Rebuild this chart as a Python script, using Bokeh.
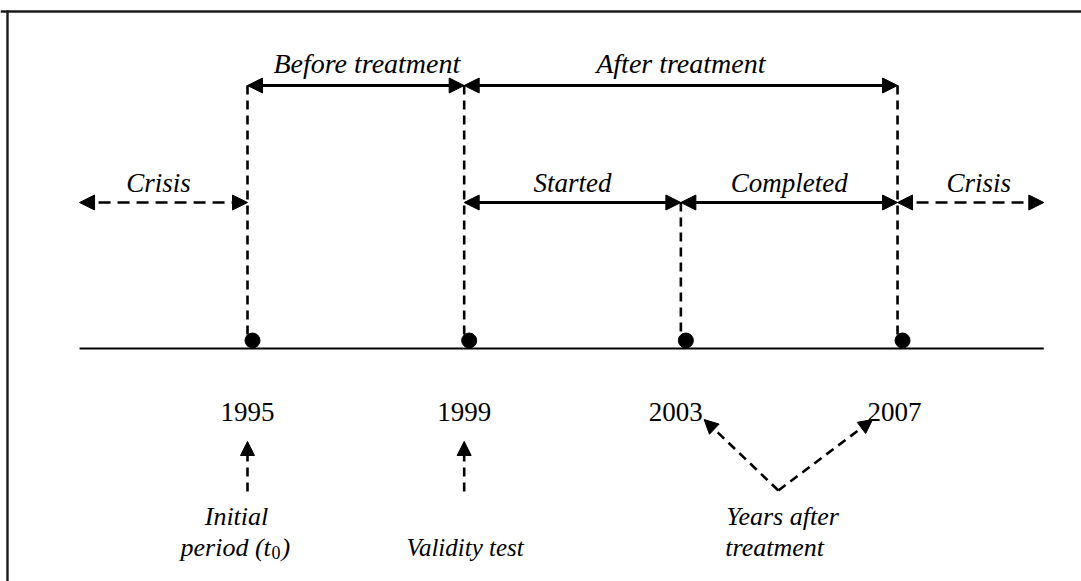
from bokeh.plotting import figure
from bokeh.models import Range1d, Arrow, NormalHead, Span
from bokeh.core.properties import value
from bokeh.embed import file_html
from bokeh.resources import INLINE

# ---------------- data ----------------
years = [1995, 1999, 2003, 2007]
year_labels = ["1995", "1999", "2003", "2007"]
guide_to = ["top", "top", "mid", "top"]          # how high each year's dashed guide reaches

top_labels = ["Before treatment", "After treatment"]
top_start = [1995, 1999]
top_end = [1999, 2007]

mid_labels = ["Crisis", "Started", "Completed", "Crisis"]
mid_start = [1991.9, 1999, 2003, 2007]
mid_end = [1995, 2003, 2007, 2009.7]
mid_dashed = [True, False, False, True]

timeline_start, timeline_end = 1991.9, 2009.7

note_years_after = 2004.8        # apex of the V arrow pointing to 2003 and 2007
# ---------------- layout ----------------
W, H = 1081, 581
PPY = 54.17                      # pixels per year
X0 = 1995 - 247 / PPY
X1 = X0 + W / PPY
Y_TOP, Y_MID, Y_BASE, Y_DOT = 85, 202, 348, 340
TY = -9                          # text baseline correction
FONT = value("Liberation Serif")
FS = "26px"

p = figure(width=W, height=H, output_backend="svg", toolbar_location=None,
           x_range=Range1d(X0, X1), y_range=Range1d(H, 0),
           x_axis_type=None, y_axis_type=None, min_border=0)
p.outline_line_color = None
p.xgrid.visible = False
p.ygrid.visible = False
p.background_fill_color = "white"
p.border_fill_color = "white"

# frame (top and left edges visible)
p.add_layout(Span(location=11, dimension="width", line_color="#1a1a1a", line_width=2.4))
p.line([X0 + 7 / PPY, X0 + 7 / PPY], [10, H + 5], line_color="#1a1a1a", line_width=2.4)

# base timeline
p.line([timeline_start, timeline_end], [Y_BASE, Y_BASE], line_color="black", line_width=2)

# dashed vertical guides
for yr, to in zip(years, guide_to):
    ytop = Y_TOP if to == "top" else Y_MID
    p.line([yr, yr], [ytop, Y_DOT], line_color="black", line_width=2.6, line_dash="9 6")

# dots
p.scatter([y + 5 / PPY for y in years], [Y_DOT] * len(years), size=15,
          fill_color="black", line_color="black")

def head():
    return NormalHead(size=15, fill_color="black", line_color="black", line_width=1)

def dbl_arrow(x0, x1, y, dashed):
    p.add_layout(Arrow(x_start=x0, y_start=y, x_end=x1, y_end=y,
                       line_color="black", line_width=2.6 if dashed else 3,
                       line_dash="12 7" if dashed else "solid",
                       start=head(), end=head()))

for a, b in zip(top_start, top_end):
    dbl_arrow(a, b, Y_TOP, False)
for a, b, d in zip(mid_start, mid_end, mid_dashed):
    dbl_arrow(a, b, Y_MID, d)

# labels over spans
p.text(x=[(a + b) / 2 for a, b in zip(top_start, top_end)], y=[72 + TY] * 2, text=top_labels,
       text_font=FONT, text_font_size="28px", text_font_style="italic",
       text_align="center", text_baseline="alphabetic", text_color="black",
       x_offset=[11, 0])
p.text(x=[(a + b) / 2 for a, b in zip(mid_start, mid_end)], y=[191 + TY] * 4, text=mid_labels,
       text_font=FONT, text_font_size="27px", text_font_style="italic",
       text_align="center", text_baseline="alphabetic", text_color="black",
       x_offset=[-5, 0, 0, 8])

# year labels
p.text(x=years, y=[420 + TY] * 4, text=year_labels, text_font=FONT, text_font_size="27px",
       text_align="center", text_baseline="alphabetic", text_color="black",
       x_offset=[0, 0, -5, -3])

# upward dashed arrows to 1995 and 1999
for yr in years[:2]:
    p.add_layout(Arrow(x_start=yr, y_start=491, x_end=yr, y_end=441,
                       line_color="black", line_width=2.6, line_dash="9 6",
                       end=NormalHead(size=14, fill_color="black", line_color="black", line_width=1)))

# V arrows to 2003 and 2007
for tx, ty in [(years[2] + 0.43, 419), (years[3] - 0.46, 419)]:
    p.add_layout(Arrow(x_start=note_years_after, y_start=490, x_end=tx, y_end=ty,
                       line_color="black", line_width=2.6, line_dash="9 6",
                       end=NormalHead(size=14, fill_color="black", line_color="black", line_width=1)))

# bottom notes
p.text(x=[years[0]], y=[525 + TY], text=["Initial"], text_font=FONT, text_font_size=FS,
       text_font_style="italic", text_align="center", text_baseline="alphabetic",
       text_color="black", x_offset=-11)
p.text(x=[years[0]], y=[556 + TY], text=["period (t"], text_font=FONT, text_font_size=FS,
       text_font_style="italic", text_align="left", text_baseline="alphabetic",
       text_color="black", x_offset=-67)
p.text(x=[years[0]], y=[561 + TY], text=["0"], text_font=FONT, text_font_size="18px",
       text_align="left", text_baseline="alphabetic", text_color="black", x_offset=24)
p.text(x=[years[0]], y=[556 + TY], text=[")"], text_font=FONT, text_font_size=FS,
       text_font_style="italic", text_align="left", text_baseline="alphabetic",
       text_color="black", x_offset=34)
p.text(x=[years[1]], y=[556 + TY], text=["Validity  test"], text_font=FONT, text_font_size="25px",
       text_font_style="italic", text_align="center", text_baseline="alphabetic",
       text_color="black", x_offset=4)
p.text(x=[note_years_after, note_years_after], y=[525 + TY, 556 + TY], text=["Years after", "treatment"],
       text_font=FONT, text_font_size=FS, text_font_style="italic", text_align="left",
       text_baseline="alphabetic", text_color="black", x_offset=[-52, -53])

open("out.html", "w").write(file_html(p, INLINE))
